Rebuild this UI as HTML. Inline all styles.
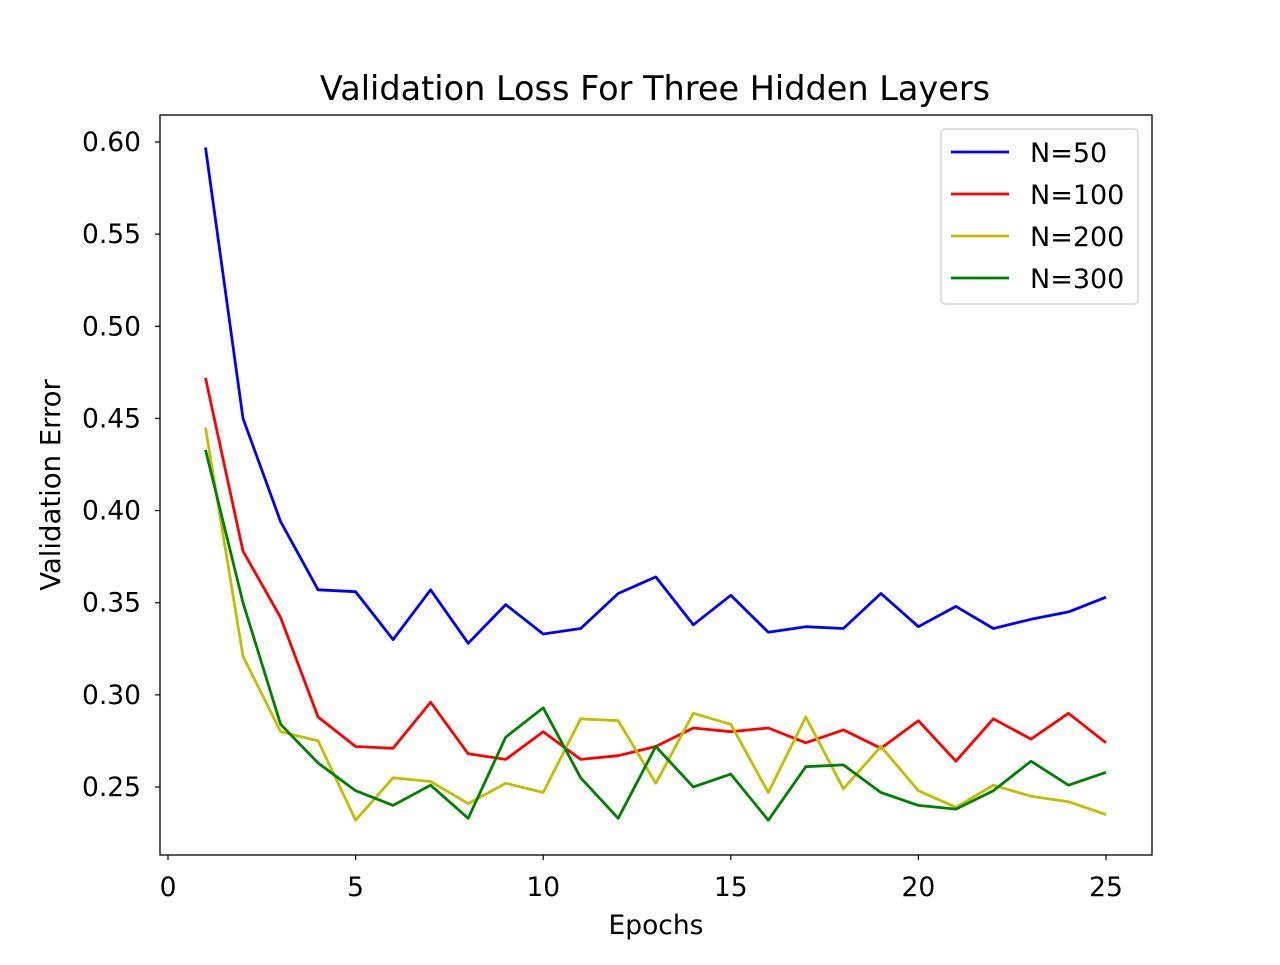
<!DOCTYPE html>
<html><head><meta charset="utf-8"><style>
html,body{margin:0;padding:0;background:#fff;}
svg text{font-family:"DejaVu Sans","Liberation Sans",sans-serif;fill:#000;}
</style></head><body>
<svg id="chart" width="1280" height="960" xmlns="http://www.w3.org/2000/svg"></svg>
<script>
const epochs = [1,2,3,4,5,6,7,8,9,10,11,12,13,14,15,16,17,18,19,20,21,22,23,24,25];
const n50 = [0.597,0.450,0.394,0.357,0.356,0.330,0.357,0.328,0.349,0.333,0.336,0.355,0.364,0.338,0.354,0.334,0.337,0.336,0.355,0.337,0.348,0.336,0.341,0.345,0.353];
const n100 = [0.472,0.378,0.342,0.288,0.272,0.271,0.296,0.268,0.265,0.280,0.265,0.267,0.272,0.282,0.280,0.282,0.274,0.281,0.271,0.286,0.264,0.287,0.276,0.290,0.274];
const n200 = [0.445,0.321,0.280,0.275,0.232,0.255,0.253,0.241,0.252,0.247,0.287,0.286,0.252,0.290,0.284,0.247,0.288,0.249,0.272,0.248,0.239,0.251,0.245,0.242,0.235];
const n300 = [0.433,0.350,0.284,0.263,0.248,0.240,0.251,0.233,0.277,0.293,0.255,0.233,0.272,0.250,0.257,0.232,0.261,0.262,0.247,0.240,0.238,0.248,0.264,0.251,0.258];
const xTicks = [0,5,10,15,20,25];
const yTicks = [0.25,0.30,0.35,0.40,0.45,0.50,0.55,0.60];
const seriesNames = ["N=50","N=100","N=200","N=300"];
const seriesColors = ["#0000ff","#ff0000","#bfbf00","#008000"];

const svg = document.getElementById('chart');
const NS = "http://www.w3.org/2000/svg";
const L=160,R=1152,T=115,B=855;
const xs = v => 168 + (v/25)*(1106-168);
const ys = v => 142 + (0.60 - v)/0.35*(787-142);
function mk(tag, attrs){const e=document.createElementNS(NS,tag);for(const k in attrs)e.setAttribute(k,attrs[k]);svg.appendChild(e);return e;}

let t = mk('text',{x:655,y:100,'font-size':'33.5','text-anchor':'middle'});


t.textContent='Validation Loss For Three Hidden Layers';

xTicks.forEach(v=>{
  const x=xs(v);
  const l=mk('line',{x1:x,x2:x,y1:B,y2:B+5,stroke:'#000','stroke-width':1.2});
  
  
  const tx=mk('text',{x:x,y:B+41,'font-size':'26.5','text-anchor':'middle'});
  
  
  tx.textContent=String(v);
});
yTicks.forEach(v=>{
  const y=ys(v);
  const l=mk('line',{x1:L-5,x2:L,y1:y,y2:y,stroke:'#000','stroke-width':1.2});
  
  
  const tx=mk('text',{x:141,y:y+9,'font-size':'26.5','text-anchor':'end'});
  
  
  tx.textContent=v.toFixed(2);
});
let xl=mk('text',{x:656,y:934,'font-size':'26.5','text-anchor':'middle'});


xl.textContent='Epochs';
let yl=mk('text',{x:60,y:485,'font-size':'27.5','text-anchor':'middle',transform:'rotate(-90 60 485)'});


yl.textContent='Validation Error';

const data=[n50,n100,n200,n300];
data.forEach((s,i)=>{
  const pts=s.map((v,j)=>xs(epochs[j]).toFixed(1)+','+ys(v).toFixed(1)).join(' ');
  const p=mk('polyline',{points:pts,fill:'none',stroke:seriesColors[i],'stroke-width':2.8,'stroke-linejoin':'round'});
  
  
});

const frame=mk('rect',{x:L,y:T,width:R-L,height:B-T,fill:'none',stroke:'#000','stroke-width':1.3});



const lg=mk('rect',{x:941,y:129,width:197,height:175,rx:4,fill:'#fff','fill-opacity':0.8,stroke:'#ccc','stroke-width':1.2});


seriesNames.forEach((n,i)=>{
  const y=152+i*42;
  const l=mk('line',{x1:951,x2:1009,y1:y,y2:y,stroke:seriesColors[i],'stroke-width':2.8});
  
  
  const tx=mk('text',{x:1030,y:y+10,'font-size':'27'});
  
  
  tx.textContent=n;
});
</script>
</body></html>
